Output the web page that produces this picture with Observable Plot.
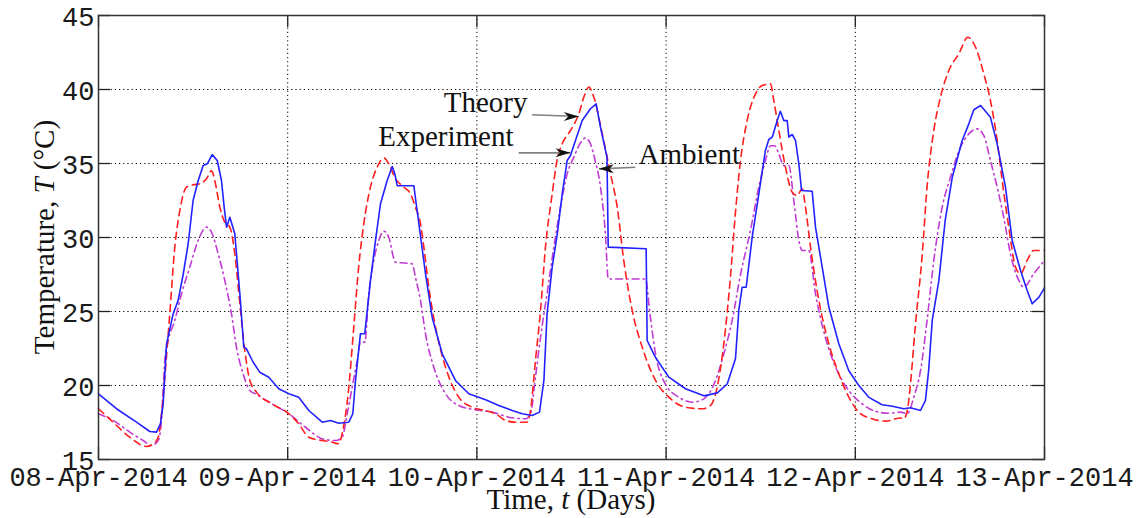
<!DOCTYPE html>
<html>
<head>
<meta charset="utf-8">
<script src="https://cdn.jsdelivr.net/npm/d3@7"></script>
<script src="https://cdn.jsdelivr.net/npm/@observablehq/plot@0.6"></script>
<style>
  html, body { margin: 0; padding: 0; background: #fff; }
  #chart svg { display: block; }
</style>
</head>
<body>
<div id="chart"></div>
<script>
// ---------- data (hours since 08-Apr-2014 00:00, temperature °C) ----------
const expHours = [0,2.28,4.82,6.51,7.36,7.86,8.2,8.63,9.47,10.1,10.74,11.38,12.0,12.65,13.28,13.8,14.42,15.06,15.6,15.94,16.24,16.66,17.29,17.93,18.43,18.77,19.62,20.46,21.6,22.87,24.14,25.4,26.68,28.38,29.43,30.48,31.75,32.26,32.6,33.23,33.78,34.5,35.14,35.77,36.62,37.26,37.59,37.89,40.0,40.3,40.85,41.48,42.33,43.6,45.28,46.97,49.1,50.78,52.48,53.75,55.0,55.94,56.5,56.9,57.55,58.2,58.82,59.45,59.87,60.5,61.36,62.4,63.13,63.68,64.5,64.66,69.47,69.6,70.65,72.35,74.46,76.8,78.5,79.75,80.8,81.22,81.65,82.16,82.92,83.76,84.6,85.03,85.46,86.1,86.5,86.93,87.36,87.57,88.0,88.42,88.84,89.18,90.53,90.95,91.8,92.64,93.91,95.18,96.45,97.72,99.4,100.7,102.15,103.0,104.27,104.9,105.3,105.76,106.6,107.4,108.3,109.56,110.4,111.03,111.9,113.14,113.99,115.05,115.9,116.96,117.8,118.44,119.3,120];
const expTemp  = [19.44,18.43,17.52,16.89,16.85,17.41,18.76,22.8,24.84,25.74,27.5,29.6,32.5,33.85,34.86,34.98,35.6,35.2,33.85,32.05,30.7,31.37,30.25,26.2,22.59,22.48,21.57,20.9,20.56,19.78,19.44,19.21,18.31,17.52,17.64,17.45,17.52,18.09,20.34,23.5,23.5,27.1,29.8,32.28,33.85,34.8,34.3,33.5,33.5,32.28,30.1,27.55,24.6,22.14,20.34,19.44,19.03,18.65,18.31,18.09,17.97,18.2,20.34,24.84,28.0,30.25,32.95,35.2,35.54,36.55,37.9,38.7,39.03,37.45,35.43,29.35,29.24,23.04,21.9,20.56,19.78,19.3,19.5,20.1,21.8,25.07,26.64,26.64,30.02,32.95,35.88,36.62,36.78,37.9,38.53,37.9,37.9,36.78,36.96,36.55,34.98,33.18,33.13,30.7,28.0,25.3,22.82,21.0,20.0,19.2,18.7,18.6,18.43,18.5,18.31,18.99,21.0,24.4,27.1,31.15,34.07,36.55,37.68,38.63,38.92,38.13,36.33,33.4,29.8,27.77,26.42,25.52,25.97,26.6];

const theoryHours = [0,1.86,3.97,6.09,6.94,7.57,7.99,8.41,9.04,9.68,10.31,11.16,12.0,12.85,13.7,14.33,14.75,15.39,16.02,16.66,17.29,17.93,18.56,19.2,20.04,22.0,24.14,25.4,26.68,28.38,29.64,30.48,30.99,31.67,32.38,33.0,33.65,34.5,35.35,36.19,36.82,37.67,38.73,39.58,40.2,40.85,41.27,41.9,42.75,44.02,45.7,47.4,49.1,50.36,51.63,52.9,54.37,54.8,55.43,56.07,56.7,57.55,58.2,58.82,59.87,60.93,61.56,62.2,62.83,63.9,64.95,65.8,66.63,67.7,68.97,70.66,72.35,74.46,76.58,77.63,78.48,79.32,80.16,80.8,81.44,82.28,83.34,84.19,85.24,85.66,86.3,87.14,88.0,88.63,89.27,89.68,90.32,91.38,92.64,93.91,95.18,96.45,98.14,99.83,101.73,102.15,102.6,103.0,103.6,104.5,105.1,105.96,106.8,107.86,109.13,110.27,111.25,112.3,113.14,114.0,114.63,115.47,116.32,116.96,117.8,118.6,120];
const theoryTemp  = [18.43,17.52,16.5,15.88,16.06,16.5,18.09,20.56,24.84,29.35,31.8,33.4,33.56,33.63,33.97,34.5,33.85,32.05,31.03,30.7,28.9,25.52,22.36,20.34,19.55,18.76,18.09,17.41,16.5,16.28,16.17,16.06,16.96,19.44,23.94,28.0,30.92,33.4,34.75,35.38,34.98,33.97,33.4,32.95,32.05,30.92,29.35,26.64,23.94,21.24,19.21,18.53,18.31,18.09,17.64,17.52,17.52,18.31,21.7,25.07,29.35,32.95,35.32,36.33,37.23,38.36,39.48,40.16,39.48,37.0,34.3,32.05,28.45,25.07,22.59,20.34,19.21,18.53,18.43,18.65,19.89,22.82,27.32,31.7,35.2,37.9,39.7,40.27,40.38,39.26,37.23,34.75,33.06,32.84,33.29,32.05,29.35,25.74,22.82,20.79,19.21,18.2,17.75,17.59,17.8,17.75,18.31,20.11,23.94,28.9,33.4,37.23,39.48,41.28,42.41,43.53,42.86,41.06,39.26,36.55,33.85,30.7,28.0,27.55,28.45,29.12,29.12];

const ambientHours = [0,1.86,3.97,5.67,6.72,7.57,7.99,8.41,8.84,9.68,10.53,11.58,12.64,13.7,14.33,15.18,16.02,16.87,17.5,18.35,19.2,20.04,22.0,24.14,26.26,28.38,30.06,30.9,31.55,32.18,32.82,33.23,33.78,34.29,34.92,35.56,36.19,36.82,37.67,39.79,40.2,40.85,41.48,42.53,44.02,45.7,47.82,49.94,52.05,54.17,54.8,55.43,56.07,56.9,57.76,58.6,59.45,60.3,61.14,61.78,62.4,63.0,63.68,64.3,64.66,69.4,69.9,70.66,71.9,73.6,75.3,76.8,78.27,79.32,80.38,81.44,82.7,83.76,84.6,85.24,85.78,86.3,86.93,87.57,88.2,88.84,89.27,90.1,90.95,92.2,93.5,95.18,96.87,98.56,100.24,101.73,102.6,103.42,104.27,105.1,105.96,107.02,108.07,109.34,110.4,111.46,112.3,113.14,114.0,114.83,115.68,116.74,117.37,118.64,120];
const ambientTemp  = [18.09,17.64,16.85,16.28,15.95,16.28,17.64,21.7,23.04,24.4,26.2,28.0,29.8,30.7,30.36,28.9,27.1,24.84,22.59,20.79,19.66,19.4,18.76,18.09,17.18,16.4,16.28,16.5,18.09,19.89,21.7,22.93,22.93,26.2,28.45,29.8,30.43,30.02,28.33,28.22,27.32,25.74,23.5,21.24,19.44,18.65,18.36,18.2,17.86,17.75,18.09,20.56,23.26,26.2,29.35,32.05,34.3,35.43,36.4,36.73,36.33,35.2,33.4,30.25,27.2,27.2,25.07,22.14,20.1,19.21,18.87,19.1,20.34,22.14,24.4,27.5,30.47,33.4,35.2,36.2,36.2,35.65,34.86,34.86,32.5,29.8,29.12,29.12,26.2,23.26,21.24,19.66,18.76,18.26,18.13,18.2,18.09,19.21,21.0,24.4,28.45,32.05,34.07,36.1,37.0,37.34,36.89,35.2,33.4,31.37,28.9,27.1,26.64,27.55,28.45];

const xTickDates = ["2014-04-08","2014-04-09","2014-04-10","2014-04-11","2014-04-12","2014-04-13"];
const yTicks = [15, 20, 25, 30, 35, 40, 45];

// annotations (data units: hours, °C)
const annoLabels = ["Theory", "Experiment", "Ambient"];
const annoHours  = [54.42, 52.64, 68.5];
const annoTemps  = [38.47, 36.17, 35.0];
const annoAnchor = ["end", "end", "start"];
const arrowFromHours = [55.0, 53.3, 68.1];
const arrowFromTemps = [38.29, 35.72, 34.75];
const arrowToHours   = [60.93, 59.87, 63.47];
const arrowToTemps   = [38.18, 35.72, 34.64];

// ---------- build ----------
const BASE = Date.UTC(2014, 3, 8);
const toDate = h => new Date(BASE + h * 3600e3);
const series = (hours, temps) => hours.map((h, i) => ({t: toDate(h), T: temps[i]}));
const expData = series(expHours, expTemp);
const theoryData = series(theoryHours, theoryTemp);
const ambientData = series(ambientHours, ambientTemp);
const xTicks = xTickDates.map(s => new Date(s + "T00:00:00Z"));

const annos = annoLabels.map((label, i) => ({label, t: toDate(annoHours[i]), T: annoTemps[i], anchor: annoAnchor[i]}));
const annosEnd = annos.filter(d => d.anchor === "end");
const annosStart = annos.filter(d => d.anchor === "start");
const arrows = arrowFromHours.map((h, i) => ({
  t1: toDate(h), T1: arrowFromTemps[i],
  t2: toDate(arrowToHours[i]), T2: arrowToTemps[i],
  rot: arrowToHours[i] >= h ? 0 : 180
}));

const W = 1146, H = 518;
const mL = 98, mR = 102, mT = 15, mB = 59;
const pW = W - mL - mR, pH = H - mT - mB;
const tk = 12;

const arrowHead = {
  draw(ctx, size) {
    ctx.moveTo(0, 0);
    ctx.lineTo(-15, -4.5);
    ctx.lineTo(-10.5, 0);
    ctx.lineTo(-15, 4.5);
    ctx.closePath();
  }
};

const serif = "'Liberation Serif', 'Times New Roman', serif";
const mono = "'Liberation Mono', 'Courier New', monospace";
const annoStyle = {x: "t", y: "T", text: "label", lineAnchor: "bottom", fontFamily: serif, fontSize: 29, fill: "#111"};

const chart = Plot.plot({
  width: W, height: H,
  marginLeft: mL, marginRight: mR, marginTop: mT, marginBottom: mB,
  style: {fontFamily: mono, fontSize: "27px", background: "#fff", color: "#1a1a1a", overflow: "visible"},
  x: {type: "utc", domain: [xTicks[0], xTicks[xTicks.length - 1]]},
  y: {domain: [15, 45]},
  marks: [
    Plot.gridX(xTicks.slice(1, -1), {stroke: "#000", strokeOpacity: 1, strokeWidth: 1, strokeDasharray: "1.2,3"}),
    Plot.gridY(yTicks.slice(1, -1), {stroke: "#000", strokeOpacity: 1, strokeWidth: 1, strokeDasharray: "1.2,3"}),
    Plot.line(ambientData, {x: "t", y: "T", stroke: "#c03cd2", strokeWidth: 1.6, strokeDasharray: "7,4,1.5,4", curve: "monotone-x"}),
    Plot.line(theoryData, {x: "t", y: "T", stroke: "#ff1f1f", strokeWidth: 1.6, strokeDasharray: "7,5", curve: "monotone-x"}),
    Plot.line(expData, {x: "t", y: "T", stroke: "#2222ff", strokeWidth: 1.6}),
    Plot.tickX(xTicks, {x: d => d, insetTop: pH - tk, stroke: "#222", strokeWidth: 1.3}),
    Plot.tickX(xTicks, {x: d => d, insetBottom: pH - tk, stroke: "#222", strokeWidth: 1.3}),
    Plot.tickY(yTicks, {y: d => d, insetRight: pW - tk, stroke: "#222", strokeWidth: 1.3}),
    Plot.tickY(yTicks, {y: d => d, insetLeft: pW - tk, stroke: "#222", strokeWidth: 1.3}),
    Plot.frame({stroke: "#333", strokeWidth: 1.5}),
    Plot.axisX({ticks: xTicks, tickFormat: d3.utcFormat("%d-%b-%Y"), tickSize: 0, tickPadding: 7,
      fontSize: 27, fontFamily: mono, label: null, fill: "#1a1a1a"}),
    Plot.axisY({ticks: yTicks, tickFormat: d => String(d), tickSize: 0, tickPadding: 4, dy: 2,
      fontSize: 27, fontFamily: mono, label: null, fill: "#1a1a1a"}),
    Plot.link(arrows, {x1: "t1", y1: "T1", x2: "t2", y2: "T2", stroke: "#808080", strokeWidth: 1.6}),
    Plot.dot(arrows, {x: "t2", y: "T2", symbol: arrowHead, r: 5, fill: "#111", stroke: null, rotate: "rot"}),
    Plot.text(annosEnd, {...annoStyle, textAnchor: "end"}),
    Plot.text(annosStart, {...annoStyle, textAnchor: "start"})
  ]
});

const svg = d3.select(chart);
document.getElementById("chart").appendChild(chart);

// axis titles
const xt = svg.append("text")
  .attr("x", mL + pW / 2).attr("y", H - 9)
  .attr("text-anchor", "middle")
  .style("font-family", serif).style("font-size", "29px").attr("fill", "#111");
xt.append("tspan").text("Time, ");
xt.append("tspan").style("font-style", "italic").text("t");
xt.append("tspan").text(" (Days)");

const yt = svg.append("text")
  .attr("transform", `translate(${54},${mT + pH / 2}) rotate(-90)`)
  .attr("text-anchor", "middle")
  .style("font-family", serif).style("font-size", "29px").attr("fill", "#111");
yt.append("tspan").text("Temperature, ");
yt.append("tspan").style("font-style", "italic").text("T");
yt.append("tspan").text(" (°C)");
</script>
</body>
</html>
